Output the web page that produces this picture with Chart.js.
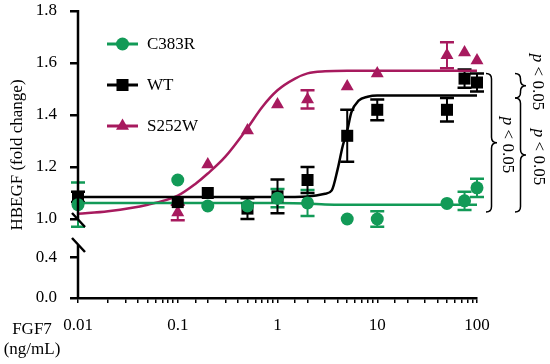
<!DOCTYPE html>
<html>
<head>
<meta charset="utf-8">
<script src="https://cdn.jsdelivr.net/npm/chart.js@4.4.0/dist/chart.umd.min.js"></script>
<style>
  html, body { margin: 0; padding: 0; background: #fff; }
</style>
</head>
<body>
<canvas id="hbegfChart" width="550" height="364"></canvas>
<script>
// FGF7 doses (ng/mL) and HBEGF fold change
const doses = [0.01, 0.1, 0.2, 0.5, 1, 2, 5, 10, 50, 75, 100];

const c383rMean = [1.055, 1.15, 1.05, 1.05, 1.08, 1.062, 1.0, 1.0, 1.06, 1.07, 1.12];
const c383rErr  = [0.085, 0, 0, 0, 0.035, 0.05, 0, 0.03, 0, 0.035, 0.035];

const wtMean = [1.085, 1.065, 1.10, 1.04, 1.087, 1.15, 1.32, 1.42, 1.42, 1.54, 1.525];
const wtErr  = [0.02, 0, 0, 0.04, 0.065, 0.05, 0.1, 0.04, 0.045, 0.035, 0.035];

const s252wMean = [1.07, 1.025, 1.21, 1.34, 1.44, 1.46, 1.51, 1.56, 1.63, 1.64, 1.61];
const s252wErr  = [0, 0.03, 0, 0, 0, 0.035, 0, 0, 0.05, 0, 0];

// fitted curves
const c383rFitX = [0.01, 1, 2, 3, 5, 100];
const c383rFitY = [1.062, 1.062, 1.06, 1.056, 1.055, 1.055];

const wtFitX = [0.01, 1, 2, 3, 3.5, 4, 4.5, 5, 5.5, 6.5, 8, 10, 100];
const wtFitY = [1.085, 1.085, 1.087, 1.097, 1.11, 1.19, 1.28, 1.34, 1.41, 1.455, 1.47, 1.475, 1.475];

const s252wFitX = [0.01, 0.02, 0.05, 0.1, 0.15, 0.2, 0.3, 0.5, 0.7, 1, 1.5, 2, 3, 5, 10, 100];
const s252wFitY = [1.02, 1.03, 1.055, 1.09, 1.135, 1.175, 1.24, 1.35, 1.43, 1.495, 1.54, 1.56, 1.568, 1.57, 1.57, 1.57];

const upperTicks = [1.0, 1.2, 1.4, 1.6, 1.8];
const lowerTicks = [0.0, 0.4];

const GREEN = '#129a57';
const MAGENTA = '#a71a5e';
const BLACK = '#000000';
const FONT = '"Liberation Serif", serif';

const toPoints = (xs, ys) => xs.map((x, i) => ({ x: x, y: ys[i] }));

const series = [
    { label: 'C383R', color: GREEN, style: 'circle', radius: 6.5, mean: c383rMean, err: c383rErr },
    { label: 'WT', color: BLACK, style: 'rect', radius: 8.5, mean: wtMean, err: wtErr },
    { label: 'S252W', color: MAGENTA, style: 'triangle', radius: 7.5, mean: s252wMean, err: s252wErr }
];

function drawBrace(ctx, x, y1, y2, w) {
    const xm = x + w / 2, ym = (y1 + y2) / 2, r = w / 2;
    ctx.beginPath();
    ctx.moveTo(x, y1);
    ctx.quadraticCurveTo(xm, y1, xm, y1 + r);
    ctx.lineTo(xm, ym - r);
    ctx.quadraticCurveTo(xm, ym, x + w, ym);
    ctx.quadraticCurveTo(xm, ym, xm, ym + r);
    ctx.lineTo(xm, y2 - r);
    ctx.quadraticCurveTo(xm, y2, x, y2);
    ctx.stroke();
}

function drawPText(ctx, cx, cy) {
    ctx.save();
    ctx.translate(cx, cy);
    ctx.rotate(Math.PI / 2);
    const italic = 'italic 17px ' + FONT;
    const normal = '17px ' + FONT;
    ctx.font = italic;
    const wp = ctx.measureText('p').width;
    ctx.font = normal;
    const wr = ctx.measureText(' < 0.05').width;
    const x0 = -(wp + wr) / 2;
    ctx.textBaseline = 'middle';
    ctx.textAlign = 'left';
    ctx.fillStyle = '#000';
    ctx.font = italic;
    ctx.fillText('p', x0, 0);
    ctx.font = normal;
    ctx.fillText(' < 0.05', x0 + wp, 0);
    ctx.restore();
}

const decorPlugin = {
    id: 'decor',
    beforeDatasetsDraw(chart) {
        const ctx = chart.ctx;
        const xs = chart.scales.x, ys = chart.scales.y;
        ctx.save();
        series.forEach(s => {
            ctx.strokeStyle = s.color;
            doses.forEach((d, i) => {
                if (!s.err[i]) return;
                const px = xs.getPixelForValue(d);
                const top = ys.getPixelForValue(s.mean[i] + s.err[i]);
                const bot = ys.getPixelForValue(s.mean[i] - s.err[i]);
                ctx.lineWidth = 2;
                ctx.beginPath();
                ctx.moveTo(px, top); ctx.lineTo(px, bot);
                ctx.stroke();
                ctx.lineWidth = 2.5;
                ctx.beginPath();
                ctx.moveTo(px - 7, top); ctx.lineTo(px + 7, top);
                ctx.moveTo(px - 7, bot); ctx.lineTo(px + 7, bot);
                ctx.stroke();
            });
        });
        ctx.restore();
    },
    afterDraw(chart) {
        const ctx = chart.ctx;
        const ys = chart.scales.y, ys2 = chart.scales.y2;
        const ax = chart.chartArea.left;
        ctx.save();

        // broken y axis
        ctx.strokeStyle = '#000';
        ctx.lineWidth = 2.5;
        const upTop = ys.getPixelForValue(1.8) - 1;
        const upBot = ys.getPixelForValue(1.0) + 1;
        const loTop = ys2.getPixelForValue(ys2.max);
        const loBot = ys2.getPixelForValue(0) + 1;
        ctx.beginPath();
        ctx.moveTo(ax, upTop); ctx.lineTo(ax, upBot);
        ctx.moveTo(ax, loTop); ctx.lineTo(ax, loBot);
        ctx.stroke();
        ctx.beginPath();
        ctx.moveTo(ax - 6, upBot - 7); ctx.lineTo(ax + 7, upBot + 7);
        ctx.moveTo(ax - 6, loTop - 7); ctx.lineTo(ax + 7, loTop + 7);
        ctx.stroke();

        // legend
        series.forEach((s, i) => {
            const ly = 44 + i * 41;
            ctx.strokeStyle = s.color;
            ctx.fillStyle = s.color;
            ctx.lineWidth = 3;
            ctx.beginPath();
            ctx.moveTo(107, ly); ctx.lineTo(138, ly);
            ctx.stroke();
            Chart.helpers.drawPoint(ctx, { pointStyle: s.style, radius: s.radius, rotation: 0, borderWidth: 0 }, 122.5, ly);
            ctx.fillStyle = '#000';
            ctx.font = '17px ' + FONT;
            ctx.textAlign = 'left';
            ctx.textBaseline = 'middle';
            ctx.fillText(s.label, 147, ly + 1);
        });

        // significance braces
        ctx.strokeStyle = '#000';
        ctx.lineWidth = 1.5;
        drawBrace(ctx, 486, ys.getPixelForValue(1.56), ys.getPixelForValue(1.027), 11);
        drawBrace(ctx, 515, ys.getPixelForValue(1.56), ys.getPixelForValue(1.465), 11);
        drawBrace(ctx, 515, ys.getPixelForValue(1.465), ys.getPixelForValue(1.027), 11);
        drawPText(ctx, 507, 145);
        drawPText(ctx, 537, 82);
        drawPText(ctx, 538, 157);

        // axis titles
        ctx.fillStyle = '#000';
        ctx.font = '17px ' + FONT;
        ctx.textAlign = 'center';
        ctx.textBaseline = 'middle';
        ctx.fillText('FGF7', 32, 330);
        ctx.fillText('(ng/mL)', 32, 350);
        ctx.save();
        ctx.translate(18, 155);
        ctx.rotate(-Math.PI / 2);
        ctx.fillText('HBEGF (fold change)', 0, 0);
        ctx.restore();

        ctx.restore();
    }
};

Chart.defaults.font.family = FONT;
Chart.defaults.font.size = 17;
Chart.defaults.color = '#000';

const pointSets = series.map((s, i) => ({
    label: s.label,
    data: toPoints(doses, s.mean),
    yAxisID: 'y',
    showLine: false,
    clip: false,
    pointStyle: s.style,
    pointRadius: s.radius,
    pointBackgroundColor: s.color,
    pointBorderColor: s.color,
    pointBorderWidth: 0,
    order: i
}));

const fitSets = [
    { data: toPoints(c383rFitX, c383rFitY), color: GREEN },
    { data: toPoints(wtFitX, wtFitY), color: BLACK },
    { data: toPoints(s252wFitX, s252wFitY), color: MAGENTA }
].map((f, i) => ({
    data: f.data,
    yAxisID: 'y',
    showLine: true,
    borderColor: f.color,
    borderWidth: 2.5,
    pointRadius: 0,
    cubicInterpolationMode: 'monotone',
    order: 3 + i
}));

const tickGrid = {
    drawOnChartArea: false,
    drawTicks: true,
    color: '#000'
};

// y axes: fixed width, and no label overhang so the plot can start at the top padding
const fitLeftAxis = s => {
    s.width = 78;
    s.paddingTop = 0;
    s.paddingBottom = 0;
};

const ctx = document.getElementById('hbegfChart').getContext('2d');
const hbegfChart = new Chart(ctx, {
    type: 'scatter',
    data: { datasets: pointSets.concat(fitSets) },
    options: {
        responsive: false,
        animation: false,
        devicePixelRatio: 1,
        layout: { padding: { top: 11, right: 73, left: 0, bottom: 0 } },
        plugins: { legend: { display: false }, tooltip: { enabled: false } },
        scales: {
            x: {
                type: 'logarithmic',
                position: 'bottom',
                min: 0.01,
                max: 100,
                afterFit: s => { s.height = 66; },
                grid: Object.assign({}, tickGrid, { tickLength: 5, lineWidth: 1.5 }),
                border: { display: true, color: '#000', width: 2.5 },
                ticks: {
                    autoSkip: false,
                    maxRotation: 0,
                    padding: 12,
                    callback: v => {
                        const l = Math.log10(v);
                        return Math.abs(l - Math.round(l)) < 1e-6 ? String(Number(v.toPrecision(1))) : '';
                    }
                }
            },
            y2: {
                type: 'linear',
                position: 'left',
                stack: 'left',
                stackWeight: 53,
                min: 0,
                max: 0.52,
                afterBuildTicks: s => { s.ticks = lowerTicks.map(v => ({ value: v })); },
                afterFit: fitLeftAxis,
                grid: Object.assign({}, tickGrid, { tickLength: 8, lineWidth: 2.5 }),
                border: { display: false },
                ticks: { padding: 13, callback: v => v.toFixed(1) }
            },
            y: {
                type: 'linear',
                position: 'left',
                stack: 'left',
                stackWeight: 234,
                min: 0.9,
                max: 1.8,
                afterBuildTicks: s => { s.ticks = upperTicks.map(v => ({ value: v })); },
                afterFit: fitLeftAxis,
                grid: Object.assign({}, tickGrid, { tickLength: 8, lineWidth: 2.5 }),
                border: { display: false },
                ticks: { padding: 13, callback: v => v.toFixed(1) }
            }
        }
    },
    plugins: [decorPlugin]
});
</script>
</body>
</html>
